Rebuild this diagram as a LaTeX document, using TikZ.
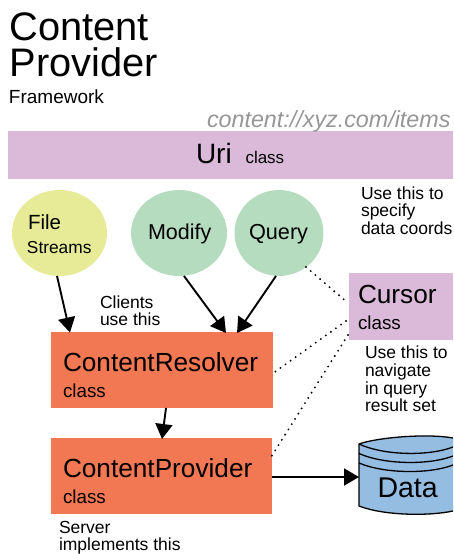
\documentclass[tikz,border=0pt]{standalone}
\usepackage{fontspec}
\setmainfont{Liberation Sans}
\usetikzlibrary{arrows.meta,shapes.geometric}
\definecolor{lilac}{HTML}{DBB9D8}
\definecolor{orangebox}{HTML}{F17853}
\definecolor{mint}{HTML}{B5DCBF}
\definecolor{lime}{HTML}{E7EA96}
\definecolor{datablue}{HTML}{95BDE2}
\tikzset{
  box/.style={draw=none,inner sep=0pt,outer sep=0pt,anchor=north west},
  ball/.style={ellipse,draw=none,inner sep=0pt,outer sep=0pt},
  txt/.style={inner sep=0pt,outer sep=0pt,anchor=base west,align=left,text=black},
  flow/.style={line width=1.9pt,-{Triangle[length=15pt,width=17pt]}},
  dots/.style={line width=2.1pt,line cap=round,dash pattern=on 0pt off 6.2pt},
  cyl/.style={draw=black,line width=1.3pt,line join=round}
}
\newcommand{\fs}[1]{\fontsize{#1}{#1}\selectfont}
\begin{document}
\begin{tikzpicture}[x=1pt,y=-1pt]
\useasboundingbox (0,0) rectangle (453,554);
% boxes
\node[box,fill=lilac,minimum width=445pt,minimum height=48pt] (uri) at (8,131) {};
\node[box,fill=lilac,minimum width=104pt,minimum height=67pt] (cursor) at (349,273) {};
\node[box,fill=orangebox,minimum width=222pt,minimum height=76pt] (resolver) at (51,332) {};
\node[box,fill=orangebox,minimum width=221pt,minimum height=76pt] (provider) at (51,438) {};
% circles
\node[ball,fill=lime,minimum width=95pt,minimum height=86pt] (file) at (59.5,233) {};
\node[ball,fill=mint,minimum width=96pt,minimum height=86pt] (modify) at (179,233) {};
\node[ball,fill=mint,minimum width=89pt,minimum height=86pt] (query) at (279,233) {};
% data cylinder
\fill[datablue] (359,444) .. controls (375,438) and (425,433) .. (453,438) -- (453,511) .. controls (430,516) and (385,516) .. (359,506) -- cycle;
\draw[cyl] (453,438) .. controls (425,433) and (375,438) .. (359,444) -- (359,506) .. controls (385,516) and (430,516) .. (453,511);
\draw[cyl] (359,444) .. controls (385,456) and (430,456) .. (453,447);
\draw[cyl] (359,453.5) .. controls (385,465) and (430,465) .. (453,456);
\draw[cyl] (359,463) .. controls (385,474) and (430,474) .. (453,465);
\coordinate (dataw) at (359,477);
\node[txt,font=\fs{28.5}] (datalabel) at (377.5,497.5) {Data};
% titles
\node[txt,font=\fs{39.8}] (t1) at (9.5,40) {Content};
\node[txt,font=\fs{39.8}] (t2) at (9.5,76) {Provider};
\node[txt,font=\fs{19}] (t3) at (9,103) {Framework};
\node[txt,font=\itshape\fs{23.3},text={rgb,255:red,150;green,150;blue,150}] (t4) at (207,127.5) {content://xyz.com/items};
% labels
\node[txt,font=\fs{28}] (l1) at (196,163) {Uri};
\node[txt,font=\fs{17}] (l2) at (245.5,163) {class};
\node[txt,font=\fs{17.5}] (l3) at (361,199) {Use this to};
\node[txt,font=\fs{17.5}] (l4) at (361,216) {specify};
\node[txt,font=\fs{17.5}] (l5) at (361,234) {data coords};
\node[txt,font=\fs{20.5}] (l6) at (28,229) {File};
\node[txt,font=\fs{17.3}] (l7) at (27,253) {Streams};
\node[txt,font=\fs{21.5}] (l8) at (148,239) {Modify};
\node[txt,font=\fs{21.7}] (l9) at (249,239) {Query};
\node[txt,font=\fs{26.2}] (l10) at (358,303) {Cursor};
\node[txt,font=\fs{18.8}] (l11) at (358,329) {class};
\node[txt,font=\fs{17.5}] (l12) at (365,358) {Use this to};
\node[txt,font=\fs{17.5}] (l13) at (365,376) {navigate};
\node[txt,font=\fs{17.5}] (l14) at (365,394) {in query};
\node[txt,font=\fs{17.5}] (l15) at (365,411) {result set};
\node[txt,font=\fs{17.5}] (l16) at (100,308) {Clients};
\node[txt,font=\fs{17.5}] (l17) at (100,325) {use this};
\node[txt,font=\fs{26.2}] (l18) at (63,371) {ContentResolver};
\node[txt,font=\fs{18.8}] (l19) at (63,397) {class};
\node[txt,font=\fs{26.2}] (l20) at (63,477) {ContentProvider};
\node[txt,font=\fs{18.8}] (l21) at (63,503) {class};
\node[txt,font=\fs{17.5}] (l22) at (59,533) {Server};
\node[txt,font=\fs{17.5}] (l23) at (59,550) {implements this};
% connector ends
\coordinate (fileS) at (57,276);
\coordinate (resA) at (70,332.5);
\coordinate (modS) at (184,276);
\coordinate (resB) at (226,333);
\coordinate (queS) at (276,276);
\coordinate (resC) at (237,333);
\coordinate (resS) at (166,408);
\coordinate (proN) at (162,439);
\coordinate (proE) at (272,477);
\coordinate (queE) at (306,267);
\coordinate (curA) at (348,303);
\coordinate (curB) at (346,321);
\coordinate (resE) at (272,374);
\coordinate (curC) at (348,335);
\coordinate (proF) at (271,457);
% connectors
\draw[flow] (fileS) -- (resA);
\draw[flow] (modS) -- (resB);
\draw[flow] (queS) -- (resC);
\draw[flow] (resS) -- (proN);
\draw[flow] (proE) -- (dataw);
\draw[dots] (queE) -- (curA);
\draw[dots] (curB) -- (resE);
\draw[dots] (curC) -- (proF);
\end{tikzpicture}
\end{document}
